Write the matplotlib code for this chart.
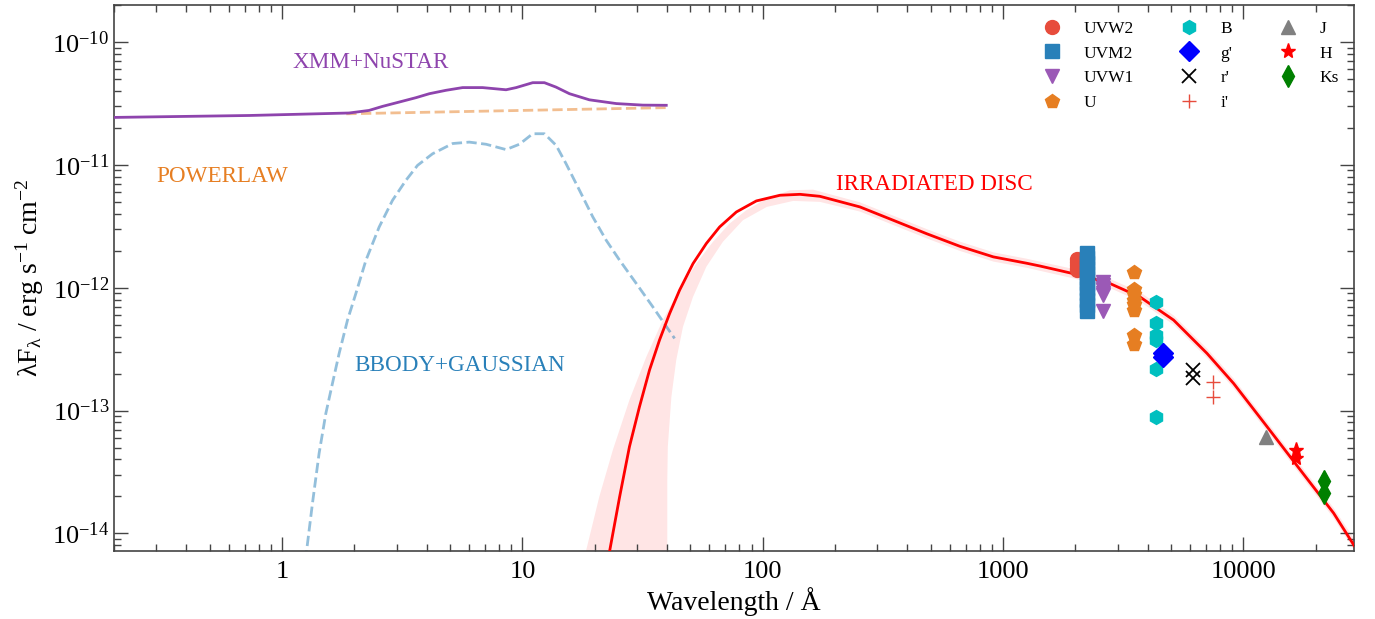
import numpy as np
import matplotlib.pyplot as plt
import matplotlib as mpl
from matplotlib.ticker import NullFormatter

mpl.rcParams['font.family'] = 'Liberation Serif'
mpl.rcParams['mathtext.fontset'] = 'custom'
mpl.rcParams['mathtext.rm'] = 'Liberation Serif'
mpl.rcParams['mathtext.it'] = 'Liberation Serif:italic'
mpl.rcParams['mathtext.bf'] = 'Liberation Serif:bold'
mpl.rcParams['mathtext.default'] = 'regular'
mpl.rcParams['font.size'] = 19
mpl.rcParams['xtick.top'] = True
mpl.rcParams['ytick.right'] = True
mpl.rcParams['xtick.direction'] = 'in'
mpl.rcParams['ytick.direction'] = 'in'

# --- X-ray model components (wavelength in Angstrom, lambda F_lambda) ---
xmm_wl = [0.2, 0.73, 1.9, 2.3, 2.62, 3.07, 3.61, 4.1, 4.81, 5.64, 6.83, 8.55, 9.42, 11.04, 12.35,
          13.8, 15.7, 19.0, 24.6, 31.7, 39.7]
xmm_flux = [2.43e-11, 2.52e-11, 2.64e-11, 2.77e-11, 2.99e-11, 3.24e-11, 3.52e-11, 3.79e-11, 4.04e-11,
            4.25e-11, 4.25e-11, 4.08e-11, 4.25e-11, 4.66e-11, 4.66e-11, 4.29e-11, 3.79e-11, 3.38e-11,
            3.15e-11, 3.06e-11, 3.05e-11]

pl_wl = [1.85, 40.0]
pl_flux = [2.6e-11, 2.92e-11]

bb_wl = [1.25, 1.338, 1.426, 1.521, 1.620, 1.728, 1.872, 2.028, 2.233, 2.536, 2.881, 3.277, 3.663,
         4.23, 5.13, 6.01, 7.06, 8.55, 9.72, 11.04, 12.35, 13.82, 15.2, 17.28, 19.63, 22.33, 25.4,
         29.8, 34.9, 43.0]
bb_flux = [6.0e-15, 1.76e-14, 4.49e-14, 9.48e-14, 1.66e-13, 2.92e-13, 5.45e-13, 8.97e-13, 1.67e-12,
           3.12e-12, 5.14e-12, 7.48e-12, 9.9e-12, 1.23e-11, 1.49e-11, 1.53e-11, 1.47e-11, 1.33e-11,
           1.47e-11, 1.79e-11, 1.79e-11, 1.44e-11, 1.02e-11, 6.21e-12, 3.77e-12, 2.43e-12, 1.67e-12,
           1.08e-12, 6.98e-13, 3.86e-13]

# --- irradiated disc model ---
disc_wl = [22.5, 25.4, 27.9, 30.7, 33.8, 37.2, 41.0, 45.1, 51.3, 58.3, 66.2, 77.7, 94.1, 118, 143,
           173, 254, 349, 481, 662, 912, 1256, 1426, 1963, 2704, 3718, 5128, 7063, 9120, 12560,
           17280, 23780, 28800, 31000]
disc_flux = [5.5e-15, 1.99e-14, 5.08e-14, 1.07e-13, 2.13e-13, 3.74e-13, 6.16e-13, 9.54e-13, 1.57e-12,
             2.29e-12, 3.12e-12, 4.13e-12, 5.08e-12, 5.65e-12, 5.75e-12, 5.54e-12, 4.54e-12, 3.54e-12,
             2.75e-12, 2.17e-12, 1.78e-12, 1.58e-12, 1.5e-12, 1.30e-12, 1.11e-12, 8.4e-13, 5.45e-13,
             2.92e-13, 1.66e-13, 7.39e-14, 3.28e-14, 1.46e-14, 8.07e-15, 6.5e-15]

# uncertainty band: upper envelope (left to right) and lower envelope (left to right)
band_up_wl = [17.5, 18.4, 20.9, 23.8, 27.9, 32.8, 38.4, 45.1, 52.9, 62.1, 72.9, 85.5, 104, 130, 162,
              254, 349, 481, 662, 912, 1256, 1963, 2704, 3718, 5128, 7063, 9120, 12560, 17280,
              23780, 31000]
band_up_flux = [4.8e-15, 7.2e-15, 1.99e-14, 4.78e-14, 1.22e-13, 2.74e-13, 5.45e-13, 9.54e-13, 1.57e-12,
                2.36e-12, 3.33e-12, 4.27e-12, 5.31e-12, 6.21e-12, 6.28e-12, 4.95e-12, 3.86e-12,
                3.0e-12, 2.37e-12, 1.94e-12, 1.72e-12, 1.42e-12, 1.21e-12, 9.2e-13, 5.95e-13,
                3.2e-13, 1.82e-13, 8.1e-14, 3.6e-14, 1.61e-14, 7.4e-15]
band_lo_wl = [40.1, 40.1, 40.3, 41.7, 43.7, 46.6, 51.3, 58.3, 68.3, 82.8, 104, 134, 173, 254, 349, 481,
              662, 912, 1256, 1963, 2704, 3718, 5128, 7063, 9120, 12560, 17280, 23780, 31000]
band_lo_flux = [1e-16, 2.72e-14, 5.08e-14, 1.29e-13, 2.58e-13, 4.8e-13, 8.41e-13, 1.48e-12, 2.36e-12,
                3.54e-12, 4.54e-12, 5.08e-12, 4.99e-12, 4.16e-12, 3.24e-12, 2.52e-12, 1.99e-12,
                1.63e-12, 1.45e-12, 1.19e-12, 1.02e-12, 7.7e-13, 5.0e-13, 2.68e-13, 1.52e-13,
                6.75e-14, 3.0e-14, 1.33e-14, 5.9e-15]

# --- photometry ---
uvw2_wl, uvw2_flux = 2030, [1.72e-12, 1.62e-12, 1.52e-12, 1.44e-12, 1.38e-12]
uvm2_wl, uvm2_flux = 2240, [1.9e-12, 1.75e-12, 1.6e-12, 1.45e-12, 1.32e-12, 1.2e-12, 1.1e-12,
                            1.0e-12, 9.0e-13, 8.0e-13, 7.2e-13, 6.5e-13]
uvw1_wl, uvw1_flux = 2600, [1.12e-12, 1.05e-12, 1.0e-12, 9.5e-13, 9.0e-13, 8.7e-13, 6.5e-13]
u_wl, u_flux = 3500, [1.33e-12, 9.7e-13, 8.8e-13, 8.0e-13, 7.3e-13, 6.6e-13, 4.1e-13, 3.5e-13]
b_wl, b_flux = 4350, [7.67e-13, 5.12e-13, 4.11e-13, 3.74e-13, 2.16e-13, 8.8e-14]
g_wl, g_flux = 4650, [2.75e-13, 2.95e-13]
r_wl, r_flux = 6160, [2.14e-13, 1.85e-13]
i_wl, i_flux = 7480, [1.71e-13, 1.28e-13]
j_wl, j_flux = 12420, [6.1e-14]
h_wl, h_flux = 16630, [4.78e-14, 4.08e-14]
ks_wl, ks_flux = 21600, [2.69e-14, 2.12e-14]

x_ticks = [1, 10, 100, 1000, 10000]
y_ticks = [1e-14, 1e-13, 1e-12, 1e-11, 1e-10]

fig = plt.figure(figsize=(13.75, 6.19), dpi=100)
ax = fig.add_axes([0.083, 0.110, 0.902, 0.882])

ax.fill(band_up_wl + band_lo_wl[::-1], band_up_flux + band_lo_flux[::-1],
        color='red', alpha=0.1, lw=0, zorder=1)
ax.plot(pl_wl, pl_flux, ls='--', lw=2, color='#e67e22', alpha=0.5, zorder=2)
ax.plot(bb_wl, bb_flux, ls='--', lw=2, color='#2980b9', alpha=0.5, zorder=2)
ax.plot(xmm_wl, xmm_flux, ls='-', lw=2, color='#8e44ad', zorder=3)
ax.plot(disc_wl, disc_flux, ls='-', lw=2, color='red', zorder=3)

ms = 10
ax.plot([uvw2_wl] * len(uvw2_flux), uvw2_flux, ls='none', marker='o', ms=ms, color='#e74c3c', label='UVW2', zorder=4)
ax.plot([uvm2_wl] * len(uvm2_flux), uvm2_flux, ls='none', marker='s', ms=ms, color='#2980b9', label='UVM2', zorder=4)
ax.plot([uvw1_wl] * len(uvw1_flux), uvw1_flux, ls='none', marker='v', ms=ms, color='#9b59b6', label='UVW1', zorder=4)
ax.plot([u_wl] * len(u_flux), u_flux, ls='none', marker='p', ms=ms, color='#e67e22', label='U', zorder=4)
ax.plot([b_wl] * len(b_flux), b_flux, ls='none', marker='h', ms=ms, color='c', label='B', zorder=4)
ax.plot([g_wl] * len(g_flux), g_flux, ls='none', marker='D', ms=ms, color='b', label="g'", zorder=4)
ax.plot([r_wl] * len(r_flux), r_flux, ls='none', marker='x', ms=ms, mew=1.3, color='k', label="r'", zorder=4)
ax.plot([i_wl] * len(i_flux), i_flux, ls='none', marker='+', ms=ms, mew=1.0, color='#e74c3c', label="i'", zorder=4)
ax.plot([j_wl] * len(j_flux), j_flux, ls='none', marker='^', ms=ms, color='gray', label='J', zorder=4)
ax.plot([h_wl] * len(h_flux), h_flux, ls='none', marker='*', ms=ms + 1, color='red', label='H', zorder=4)
ax.plot([ks_wl] * len(ks_flux), ks_flux, ls='none', marker='d', ms=ms + 1, color='green', label='Ks', zorder=4)

ax.text(1.1, 6.8e-11, 'XMM+NuSTAR', color='#8e44ad', fontsize=16.7, ha='left', va='center')
ax.text(0.3, 8.07e-12, 'POWERLAW', color='#e67e22', fontsize=16.7, ha='left', va='center')
ax.text(2.0, 2.31e-13, 'BBODY+GAUSSIAN', color='#2980b9', fontsize=16.7, ha='left', va='center')
ax.text(201, 6.93e-12, 'IRRADIATED DISC', color='red', fontsize=16.7, ha='left', va='center')

ax.set_xscale('log')
ax.set_yscale('log')
ax.set_xlim(0.2, 2.9e4)
ax.set_ylim(7.2e-15, 2.0e-10)
ax.set_xticks(x_ticks, labels=[str(t) for t in x_ticks])
ax.set_yticks(y_ticks, labels=[r'$10^{%d}$' % round(np.log10(t)) for t in y_ticks])
ax.xaxis.set_minor_formatter(NullFormatter())
ax.yaxis.set_minor_formatter(NullFormatter())
ax.tick_params(which='major', length=10, width=1, color='#444444')
ax.tick_params(which='minor', length=5, width=1, color='#444444')
ax.tick_params(axis='x', which='major', pad=7)
for s in ax.spines.values():
    s.set_color('#444444')
    s.set_linewidth(1.2)

ax.set_xlabel('Wavelength / Å', fontsize=20, labelpad=3)
ax.set_ylabel(r'$\lambda F_{\lambda}$ / erg s$^{-1}$ cm$^{-2}$', fontsize=20)

ax.legend(loc='upper right', ncol=3, frameon=False, fontsize=12.5, columnspacing=2.2)

plt.savefig('out.png', dpi=100)
